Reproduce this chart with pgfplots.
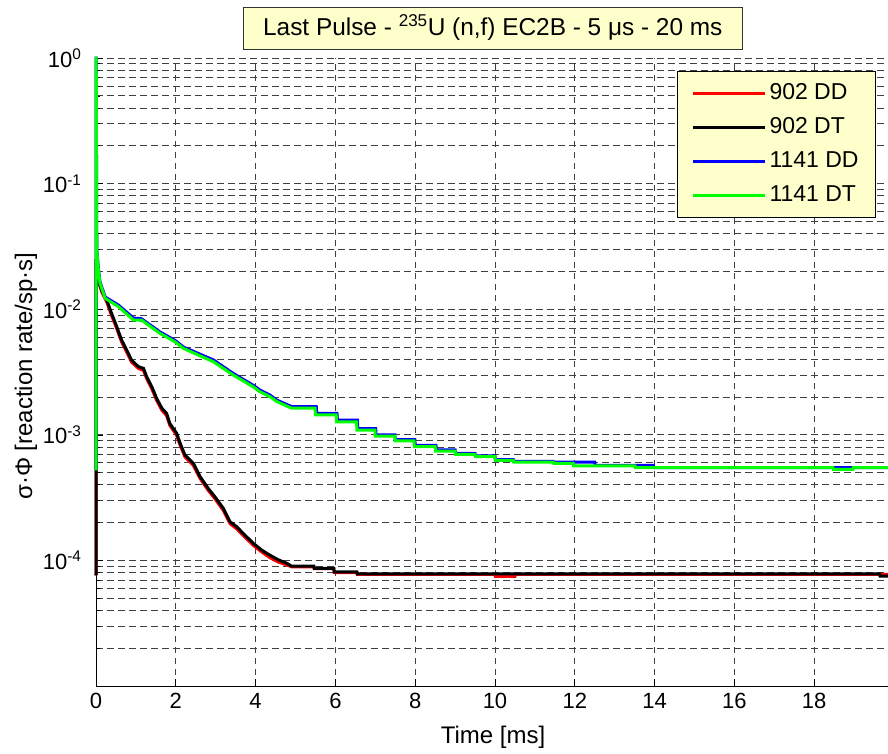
\documentclass[border=0pt]{standalone}
\usepackage{fontspec}
\setmainfont{Liberation Sans}
\usepackage{pgfplots}
\pgfplotsset{compat=1.18}
\definecolor{legfill}{RGB}{255,255,204}
\definecolor{mgreen}{RGB}{0,255,0}
\definecolor{mblue}{RGB}{0,0,255}
\definecolor{mred}{RGB}{255,0,0}
\newcommand{\tfont}{\fontsize{22}{26}\selectfont}
\newcommand{\lfont}{\fontsize{23}{27}\selectfont}
\newcommand{\afont}{\fontsize{24}{28}\selectfont}
\begin{document}
\begin{tikzpicture}
\useasboundingbox (0pt,0pt) rectangle (888pt,753pt);
\begin{axis}[
  at={(96pt,67pt)}, anchor=south west,
  width=792pt, height=628pt, scale only axis,
  ymode=log, xmin=0, xmax=19.85, ymin=1e-5, ymax=1,
  axis x line*=bottom, axis y line*=left,
  axis line style={-, line width=0.9pt, black},
  clip=false,
  xtick={0,2,...,18},
  xticklabels={0,2,4,6,8,10,12,14,16,18},
  ytick={1e-5,1e-4,1e-3,1e-2,1e-1,1},
  yticklabels={,{10\textsuperscript{-4}},{10\textsuperscript{-3}},{10\textsuperscript{-2}},{10\textsuperscript{-1}},{10\textsuperscript{0}}},
  ticklabel style={font=\tfont},
  xticklabel style={yshift=-4pt},
  yticklabel style={xshift=-11pt},
  tick align=inside,
  major tick length=7pt, minor tick length=4pt,
  tick style={black, line width=0.6pt},
  grid=both,
  major grid style={black!75, line width=0.7pt, dash pattern=on 6.5pt off 4.5pt},
  minor grid style={black!75, line width=0.7pt, dash pattern=on 6.5pt off 4.5pt},
  legend cell align=left,
  legend style={at={(rel axis cs:0.9848,0.9793)}, anchor=north east,
    fill=legfill, draw=black, line width=0.8pt, font=\lfont,
    inner xsep=14pt, inner ysep=8pt, row sep=6pt,
    nodes={inner sep=3pt, text height=17pt, text depth=5pt}},
  legend image code/.code={\draw[#1, line width=3pt] (0pt,0pt) -- (72pt,0pt);},
]
\addplot[mred, line width=3pt] coordinates {
(0,7.6e-5) (0.001,2.5e-2) (0.03,2.15e-2) (0.06,1.68e-2) (0.14,1.38e-2) (0.27,1.14e-2)
(0.39,8.9e-3) (0.52,7.0e-3) (0.64,5.5e-3) (0.77,4.55e-3) (0.89,3.8e-3) (1.06,3.38e-3)
(1.19,3.25e-3) (1.27,2.8e-3) (1.40,2.32e-3) (1.52,1.88e-3) (1.65,1.57e-3) (1.77,1.42e-3)
(1.85,1.19e-3) (2.02,9.9e-4) (2.11,8.25e-4) (2.23,6.65e-4) (2.44,5.7e-4) (2.61,4.48e-4)
(2.81,3.62e-4) (2.98,3.1e-4) (3.19,2.5e-4) (3.36,1.96e-4) (3.53,1.78e-4) (3.69,1.58e-4)
(3.94,1.32e-4) (4.15,1.17e-4) (4.36,1.05e-4) (4.57,9.7e-5) (4.78,9.2e-5) (4.9,8.9e-5)
(5.46,8.9e-5) (5.47,8.6e-5) (5.96,8.6e-5) (5.97,8.0e-5) (6.54,8.0e-5) (6.55,7.75e-5)
(10.0,7.75e-5) (10.01,7.45e-5) (10.5,7.45e-5) (10.51,7.75e-5) (19.85,7.75e-5)
};
\addlegendentry{902 DD}
\addplot[black, line width=3pt] coordinates {
(0,7.6e-5) (0.001,2.5e-2) (0.03,2.2e-2) (0.06,1.71e-2) (0.14,1.42e-2) (0.27,1.18e-2)
(0.39,9.27e-3) (0.52,7.26e-3) (0.64,5.69e-3) (0.77,4.73e-3) (0.89,3.94e-3) (1.06,3.49e-3)
(1.19,3.38e-3) (1.27,2.90e-3) (1.40,2.41e-3) (1.52,1.95e-3) (1.65,1.63e-3) (1.77,1.48e-3)
(1.85,1.23e-3) (2.02,1.03e-3) (2.11,8.55e-4) (2.23,6.9e-4) (2.44,5.93e-4) (2.61,4.64e-4)
(2.81,3.75e-4) (2.98,3.21e-4) (3.19,2.60e-4) (3.36,2.03e-4) (3.53,1.85e-4) (3.69,1.64e-4)
(3.94,1.37e-4) (4.15,1.21e-4) (4.36,1.10e-4) (4.57,1.01e-4) (4.78,9.5e-5) (4.9,9.0e-5)
(5.46,9.0e-5) (5.47,8.65e-5) (5.96,8.65e-5) (5.97,8.1e-5) (6.54,8.1e-5) (6.55,7.8e-5)
(19.64,7.8e-5) (19.65,7.5e-5) (19.85,7.5e-5)
};
\addlegendentry{902 DT}
\addplot[mblue, line width=3pt] coordinates {
(0,5.2e-4) (0.001,1) (0.005,1) (0.02,3.0e-2) (0.06,2.1e-2) (0.1,1.65e-2) (0.23,1.25e-2)
(0.56,1.08e-2) (0.94,8.5e-3) (1.14,8.4e-3) (1.6,6.6e-3) (1.98,5.65e-3) (2.19,5.0e-3)
(2.56,4.45e-3) (2.94,3.95e-3) (3.44,3.08e-3) (3.94,2.48e-3) (4.11,2.27e-3) (4.36,2.07e-3)
(4.53,1.89e-3) (4.90,1.68e-3) (5.52,1.68e-3) (5.53,1.48e-3) (6.04,1.48e-3) (6.05,1.31e-3)
(6.55,1.31e-3) (6.56,1.12e-3) (7.01,1.12e-3) (7.02,1.0e-3) (7.49,1.0e-3) (7.5,9.15e-4)
(7.99,9.15e-4) (8.0,8.25e-4) (8.52,8.25e-4) (8.53,7.6e-4) (9.0,7.6e-4) (9.01,7.1e-4)
(9.5,7.1e-4) (9.51,6.8e-4) (10.0,6.8e-4) (10.01,6.35e-4) (10.46,6.35e-4) (10.47,6.15e-4)
(11.46,6.15e-4) (11.47,6.05e-4) (12.5,6.05e-4) (12.51,5.7e-4) (13.97,5.7e-4) (13.98,5.47e-4)
(19.85,5.47e-4)
};
\addlegendentry{1141 DD}
\addplot[mgreen, line width=3pt] coordinates {
(0,5.2e-4) (0.001,1) (0.005,1) (0.02,2.96e-2) (0.06,2.05e-2) (0.1,1.61e-2) (0.23,1.22e-2)
(0.56,1.05e-2) (0.94,8.2e-3) (1.14,8.2e-3) (1.6,6.43e-3) (1.98,5.5e-3) (2.19,4.88e-3)
(2.56,4.32e-3) (2.94,3.82e-3) (3.44,2.99e-3) (3.94,2.41e-3) (4.11,2.2e-3) (4.36,2.01e-3)
(4.53,1.84e-3) (4.90,1.63e-3) (5.49,1.63e-3) (5.50,1.44e-3) (6.02,1.44e-3) (6.03,1.27e-3)
(6.53,1.27e-3) (6.54,1.09e-3) (6.99,1.09e-3) (7.0,9.78e-4) (7.49,9.78e-4) (7.5,8.93e-4)
(7.97,8.93e-4) (7.98,8.04e-4) (8.5,8.04e-4) (8.51,7.43e-4) (9.0,7.43e-4) (9.01,7.0e-4)
(9.5,7.0e-4) (9.51,6.7e-4) (10.0,6.7e-4) (10.01,6.26e-4) (10.46,6.26e-4) (10.47,6.07e-4)
(11.46,6.07e-4) (11.47,5.93e-4) (11.96,5.93e-4) (11.97,5.65e-4) (13.51,5.65e-4) (13.52,5.47e-4)
(18.47,5.47e-4) (18.48,5.31e-4) (18.97,5.31e-4) (18.98,5.47e-4) (19.85,5.47e-4)
};
\addlegendentry{1141 DT}
\end{axis}
\node[draw=black!80, line width=0.8pt, fill=legfill, minimum width=499pt, minimum height=42pt,
  inner sep=0pt, font=\fontsize{24.4}{28}\selectfont] at (492.8pt,725pt)
  {Last Pulse - \textsuperscript{235}U (n,f) EC2B - 5 μs - 20 ms};
\node[rotate=90, font=\afont] at (26pt,377pt) {σ·Φ [reaction rate/sp·s]};
\node[font=\afont] at (493pt,16pt) {Time [ms]};
\end{tikzpicture}
\end{document}
